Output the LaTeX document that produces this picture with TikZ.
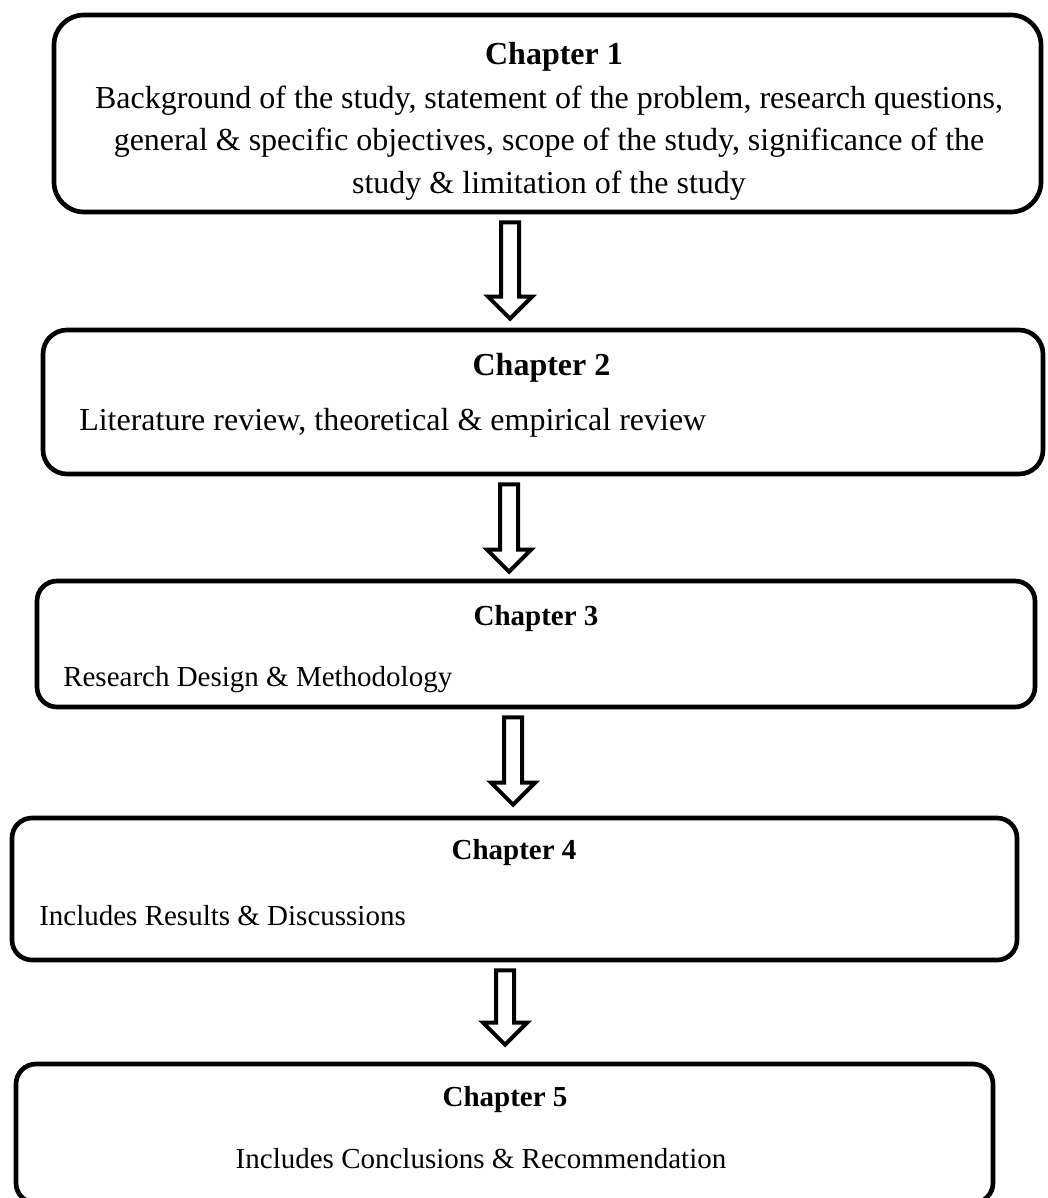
\documentclass[tikz,border=0pt]{standalone}
\usepackage{fontspec}
\setmainfont{Liberation Serif}
\usetikzlibrary{calc}

\newcommand{\hollowarrow}[4]{%
  \draw[blockarr] let \p1=([xshift=#3]#1.south), \p2=(#2.north) in
    (\x1-6.75pt,\y1-6pt) -- (\x1-6.75pt,\y2+#4+16.5pt) -- (\x1-16.5pt,\y2+#4+16.5pt)
    -- (\x1,\y2+#4) -- (\x1+16.5pt,\y2+#4+16.5pt) -- (\x1+6.75pt,\y2+#4+16.5pt)
    -- (\x1+6.75pt,\y1-6pt) -- cycle;}

\begin{document}
\begin{tikzpicture}[x=0.75pt,y=-0.75pt]
        \tikzset{chapbox/.style={draw,line width=3.5pt,rounded corners=15pt},
    bigtitle/.style={font=\bfseries\fontsize{24}{29}\selectfont,inner sep=0pt},
    bigtext/.style={font=\fontsize{24}{31.9}\selectfont,inner sep=0pt},
    title/.style={font=\bfseries\fontsize{21.75}{26}\selectfont,inner sep=0pt},
    bodytext/.style={font=\fontsize{21.75}{26}\selectfont,inner sep=0pt},
    blockarr/.style={draw,line width=3pt,fill=white}}
        \useasboundingbox (0,0) rectangle (1047,1198);
        \node (c1) at (547.5,113.5) [chapbox,rounded corners=22.5pt,minimum width=740.25pt,minimum height=147.75pt] {};
        \node (c2) at (543,402) [chapbox,rounded corners=18pt,minimum width=750pt,minimum height=108pt] {};
        \node (c3) at (536,644) [chapbox,minimum width=748.5pt,minimum height=94.5pt] {};
        \node (c4) at (514.5,889) [chapbox,minimum width=753.75pt,minimum height=106.5pt] {};
        \node (c5) at (504.5,1133.5) [chapbox,minimum width=732.75pt,minimum height=104.25pt] {};
        \node (t1) at (554,57) [bigtitle] {Chapter 1};
        \node (b1) at (549,143) [bigtext,align=center] {Background of the study, statement of the problem, research questions,\\general \& specific objectives, scope of the study, significance of the\\study \& limitation of the study};
        \node (t2) at (541.5,368) [bigtitle] {Chapter 2};
        \node (b2) at (79,423) [bigtext,anchor=west] {Literature review, theoretical \& empirical review};
        \node (t3) at (536,619) [title] {Chapter 3};
        \node (b3) at (63,680) [bodytext,anchor=west] {Research Design \& Methodology};
        \node (t4) at (514,853) [title] {Chapter 4};
        \node (b4) at (39,916) [bodytext,anchor=west] {Includes Results \& Discussions};
        \node (t5) at (505,1100) [title] {Chapter 5};
        \node (b5) at (481,1159) [bodytext] {Includes Conclusions \& Recommendation};
        \hollowarrow{c1}{c2}{-28.1pt}{6.75pt}
        \hollowarrow{c2}{c3}{-25.5pt}{5.25pt}
        \hollowarrow{c3}{c4}{-17.25pt}{8.25pt}
        \hollowarrow{c4}{c5}{-7.1pt}{12.75pt}
    \end{tikzpicture}
\end{document}
